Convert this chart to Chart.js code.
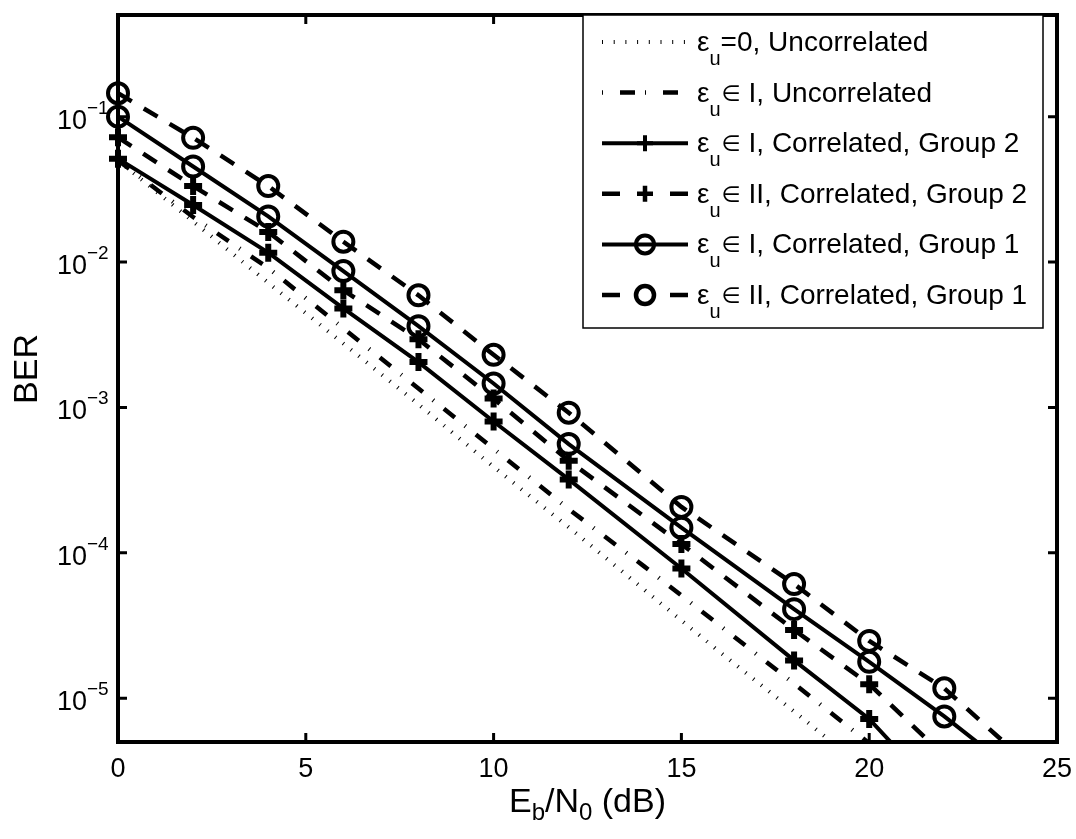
<!DOCTYPE html>
<html>
<head>
<meta charset="utf-8">
<script src="https://cdn.jsdelivr.net/npm/chart.js@4.4.0/dist/chart.umd.min.js"></script>
<style>
  body { margin: 0; background: #fff; }
</style>
</head>
<body>
<canvas id="myChart" width="1076" height="839"></canvas>
<script>
// data (x in dB, y = BER)
const snrZero = [0, 2, 4, 6, 8, 10, 12, 14, 16, 18, 20];
const berZeroUncorr = [0.05, 0.019, 0.0072, 0.00275, 0.00105, 3.9e-4, 1.5e-4, 5.6e-5, 2.1e-5, 8.1e-6, 3.1e-6];

const snrUncorr = [0, 2, 4, 6, 8, 10, 12, 14, 16, 18, 20, 22];
const berIUncorr = [0.05, 0.0204, 0.0091, 0.0035, 0.00135, 5.2e-4, 2.0e-4, 8.1e-5, 3.2e-5, 1.26e-5, 4.9e-6, 1.9e-6];

const snrGroup2 = [0, 2, 4, 6, 8, 10, 12, 15, 18, 20, 22];
const berIGroup2 = [0.0514, 0.0247, 0.0116, 0.0048, 0.00205, 8.0e-4, 3.2e-4, 7.8e-5, 1.82e-5, 7.2e-6, 2.0e-6];
const berIIGroup2 = [0.072, 0.0333, 0.0161, 0.0064, 0.00294, 0.00115, 4.3e-4, 1.15e-4, 2.95e-5, 1.25e-5, 4.0e-6];

const snrGroup1 = [0, 2, 4, 6, 8, 10, 12, 15, 18, 20, 22, 24];
const berIGroup1 = [0.1, 0.0454, 0.0206, 0.00867, 0.00362, 0.00146, 5.6e-4, 1.49e-4, 4.1e-5, 1.78e-5, 7.5e-6, 2.95e-6];
const berIIGroup1 = [0.145, 0.0715, 0.0333, 0.0138, 0.0059, 0.0023, 9.2e-4, 2.07e-4, 6.1e-5, 2.48e-5, 1.17e-5, 4.0e-6];

const xTicks = [0, 5, 10, 15, 20, 25];
const yTickExp = [-1, -2, -3, -4, -5];

const seriesLabels = [
  'ε_u=0, Uncorrelated',
  'ε_u∈ I, Uncorrelated',
  'ε_u∈ I, Correlated, Group 2',
  'ε_u∈ II, Correlated, Group 2',
  'ε_u∈ I, Correlated, Group 1',
  'ε_u∈ II, Correlated, Group 1'
];

const FONT = '"Liberation Sans", Arial, Helvetica, sans-serif';

function pts(xs, ys) {
  return xs.map((v, i) => ({ x: v, y: ys[i] }));
}

function series(label, xs, ys, dash, width, pointStyle) {
  return {
    label: label,
    data: pts(xs, ys),
    borderColor: '#000',
    borderWidth: width,
    borderDash: dash,
    pointStyle: pointStyle || 'circle',
    pointRadius: pointStyle ? (pointStyle === 'cross' ? 9 : 10) : 0,
    pointBorderWidth: pointStyle === 'cross' ? 6 : 4,
    pointBorderColor: '#000',
    pointBackgroundColor: 'rgba(0,0,0,0)',
    fill: false,
    tension: 0,
    clip: { left: 14, top: 14, right: 14, bottom: 0 }
  };
}

const datasets = [
  series(seriesLabels[0], snrZero, berZeroUncorr, [1, 9], 4),
  series(seriesLabels[1], snrUncorr, berIUncorr, [14, 13, 1, 13], 4.5),
  series(seriesLabels[2], snrGroup2, berIGroup2, [], 4, 'cross'),
  series(seriesLabels[3], snrGroup2, berIIGroup2, [16, 14], 4.5, 'cross'),
  series(seriesLabels[4], snrGroup1, berIGroup1, [], 4, 'circle'),
  series(seriesLabels[5], snrGroup1, berIIGroup1, [16, 14], 4.5, 'circle')
];

// legend line samples, like matlab draws them
const legendDash = [[1, 10.7], [1, 17, 15, 10], [], [18, 50], [], [18, 50]];

function drawLegendLabel(ctx, text, x, base) {
  const parts = text.split('_u');
  ctx.font = '28px ' + FONT;
  ctx.fillText(parts[0], x, base);
  x += ctx.measureText(parts[0]).width;
  ctx.font = '20px ' + FONT;
  ctx.fillText('u', x, base + 14);
  x += ctx.measureText('u').width;
  let rest = parts[1];
  if (rest.charAt(0) === '∈') {
    ctx.font = '22px "DejaVu Sans", sans-serif';
    ctx.fillText('∈', x + 1, base - 1);
    x += ctx.measureText('∈').width + 1;
    rest = rest.slice(1);
  }
  ctx.font = '28px ' + FONT;
  ctx.fillText(rest, x, base);
}

const matlabAxes = {
  id: 'matlabAxes',
  afterDatasetsDraw(chart) {
    const ctx = chart.ctx;
    const a = chart.chartArea;
    const xs = chart.scales.x;
    const ys = chart.scales.y;
    ctx.save();
    ctx.strokeStyle = '#000';
    ctx.fillStyle = '#000';
    ctx.setLineDash([]);

    // inward ticks
    ctx.lineWidth = 3;
    ctx.beginPath();
    xTicks.forEach(v => {
      const px = xs.getPixelForValue(v);
      ctx.moveTo(px, a.bottom); ctx.lineTo(px, a.bottom - 9);
      ctx.moveTo(px, a.top); ctx.lineTo(px, a.top + 9);
    });
    yTickExp.forEach(e => {
      const py = ys.getPixelForValue(Math.pow(10, e));
      ctx.moveTo(a.left, py); ctx.lineTo(a.left + 9, py);
      ctx.moveTo(a.right, py); ctx.lineTo(a.right - 9, py);
    });
    ctx.stroke();

    // box
    ctx.lineWidth = 4;
    ctx.strokeRect(a.left, a.top, a.right - a.left, a.bottom - a.top);

    // x tick labels
    ctx.font = '27px ' + FONT;
    ctx.textAlign = 'center';
    ctx.textBaseline = 'alphabetic';
    xTicks.forEach(v => {
      ctx.fillText(String(v), xs.getPixelForValue(v), a.bottom + 35);
    });

    // y tick labels 10^-k
    yTickExp.forEach(e => {
      const py = ys.getPixelForValue(Math.pow(10, e));
      ctx.font = '27px ' + FONT;
      ctx.textAlign = 'right';
      ctx.fillText('10', 87, py + 12);
      ctx.font = '19px ' + FONT;
      ctx.textAlign = 'left';
      ctx.fillText('\u2212' + Math.abs(e), 87, py - 3);
    });

    // axis titles
    ctx.save();
    ctx.translate(37, 369);
    ctx.rotate(-Math.PI / 2);
    ctx.font = '34px ' + FONT;
    ctx.textAlign = 'center';
    ctx.fillText('BER', 0, 0);
    ctx.restore();

    const big = '34px ' + FONT, small = '24px ' + FONT;
    const pieces = [['E', big, 0], ['b', small, 8], ['/N', big, 0], ['0', small, 8], [' (dB)', big, 0]];
    let total = 0;
    pieces.forEach(p => { ctx.font = p[1]; total += ctx.measureText(p[0]).width; });
    let tx = (a.left + a.right) / 2 - total / 2;
    ctx.textAlign = 'left';
    pieces.forEach(p => {
      ctx.font = p[1];
      ctx.fillText(p[0], tx, 812 + p[2]);
      tx += ctx.measureText(p[0]).width;
    });

    // legend
    const lx = 583, ly = 15, lw = 460, lh = 313;
    ctx.fillStyle = '#fff';
    ctx.fillRect(lx, ly, lw, lh);
    ctx.lineWidth = 1.5;
    ctx.strokeRect(lx, ly, lw, lh);
    ctx.fillStyle = '#000';
    chart.data.datasets.forEach((ds, i) => {
      const cy = 42 + i * 50.6;
      ctx.lineWidth = ds.borderWidth;
      ctx.setLineDash(legendDash[i]);
      ctx.beginPath();
      ctx.moveTo(602, cy);
      ctx.lineTo(688, cy);
      ctx.stroke();
      ctx.setLineDash([]);
      if (ds.pointRadius > 0) {
        ctx.fillStyle = 'rgba(0,0,0,0)';
        Chart.helpers.drawPoint(ctx, {
          pointStyle: ds.pointStyle,
          radius: ds.pointRadius - 1,
          borderWidth: ds.pointBorderWidth,
          rotation: 0
        }, 645, cy);
        ctx.fillStyle = '#000';
      }
      ctx.textAlign = 'left';
      drawLegendLabel(ctx, ds.label, 697, cy + 9);
    });
    ctx.restore();
  }
};

var myChart = new Chart(
  document.getElementById('myChart'),
  {
    type: 'line',
    data: { datasets: datasets },
    options: {
      responsive: false,
      animation: false,
      layout: { padding: { top: 2, right: 19, left: 0, bottom: 0 } },
      plugins: {
        legend: { display: false },
        tooltip: { enabled: false }
      },
      scales: {
        x: {
          type: 'linear',
          min: 0,
          max: 25,
          grid: { display: false, drawTicks: false },
          border: { display: false },
          ticks: { display: false },
          afterFit: s => { s.height = 97; }
        },
        y: {
          type: 'logarithmic',
          min: 5e-6,
          max: 0.5,
          grid: { display: false, drawTicks: false },
          border: { display: false },
          ticks: { display: false },
          afterFit: s => { s.width = 118; }
        }
      }
    },
    plugins: [matlabAxes]
  }
);
</script>
</body>
</html>
